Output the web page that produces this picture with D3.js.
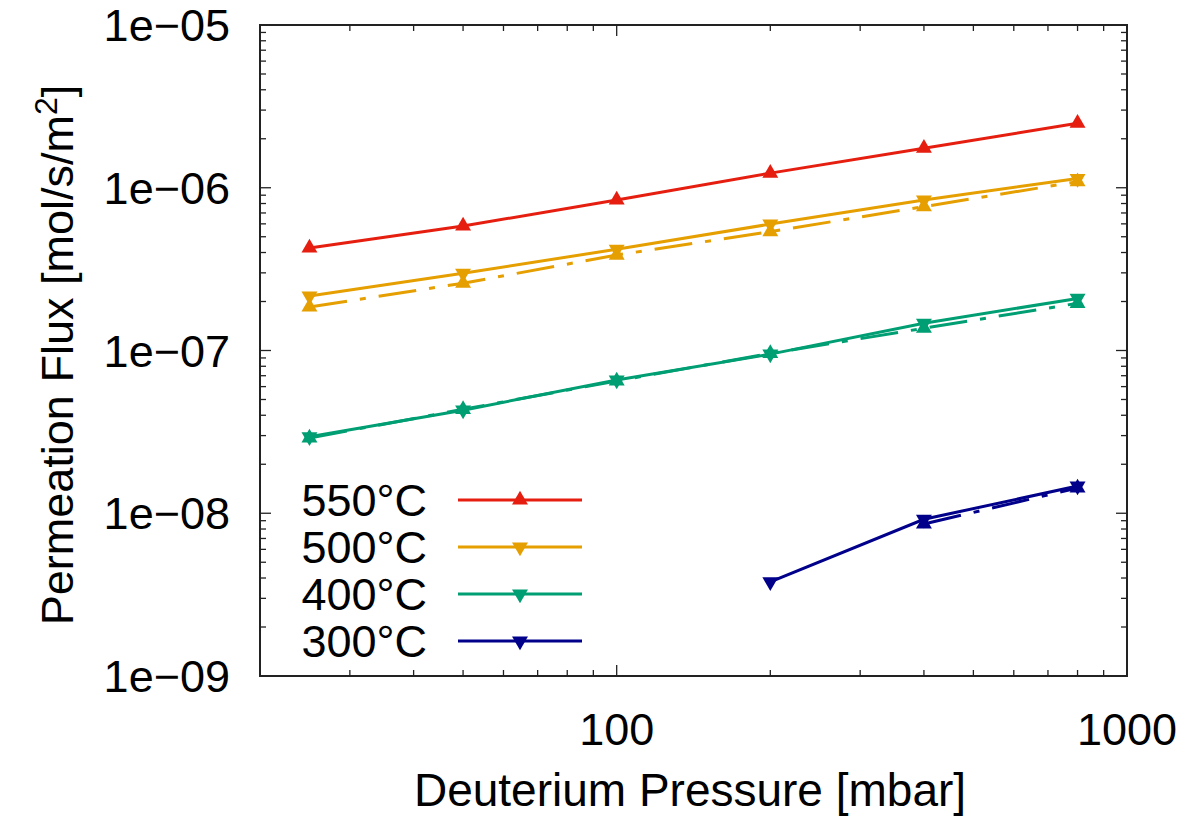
<!DOCTYPE html>
<html>
<head>
<meta charset="utf-8">
<script src="https://cdn.jsdelivr.net/npm/d3@7"></script>
<style>
  body { margin: 0; background: #fff; }
  text { font-family: "Liberation Sans", Arial, sans-serif; fill: #000; }
</style>
</head>
<body>
<script>
// pressures [mbar]
var pressures = [25, 50, 100, 200, 400, 800];

// measured flux, solid lines
var flux550 = [4.27e-7, 5.82e-7, 8.41e-7, 1.23e-6, 1.75e-6, 2.49e-6];
var flux500 = [2.16e-7, 2.98e-7, 4.19e-7, 5.98e-7, 8.41e-7, 1.14e-6];
var flux400 = [2.95e-8, 4.30e-8, 6.59e-8, 9.50e-8, 1.47e-7, 2.09e-7];
var flux300 = [null, null, null, 3.79e-9, 9.18e-9, 1.47e-8];

// second set, dash-dot lines (no key entry)
var fit500 = [1.85e-7, 2.59e-7, 3.86e-7, 5.37e-7, 7.66e-7, 1.09e-6];
var fit400 = [2.90e-8, 4.35e-8, 6.50e-8, 9.60e-8, 1.37e-7, 1.95e-7];
var fit300 = [null, null, null, null, 8.59e-9, 1.43e-8];

var labels = ["550°C", "500°C", "400°C", "300°C"];
var colors = ["#e51e10", "#e69f00", "#009e73", "#00008b"];

var xMajor = [100, 1000];
var yMajor = [1e-9, 1e-8, 1e-7, 1e-6, 1e-5];
var yLabels = ["1e\u221209", "1e\u221208", "1e\u221207", "1e\u221206", "1e\u221205"];

var W = 1187, H = 818;
var pLeft = 260, pRight = 1127, pTop = 25, pBottom = 676;

var svg = d3.select("body").append("svg")
  .attr("width", W).attr("height", H);

var x = d3.scaleLog().domain([20, 1000]).range([pLeft, pRight]);
var y = d3.scaleLog().domain([1e-9, 1e-5]).range([pBottom, pTop]);

// minor ticks
var xMinor = [];
[10, 100].forEach(function (d) {
  for (var k = 2; k <= 9; k++) {
    var v = d * k;
    if (v > 20 && v < 1000 && v !== 100) xMinor.push(v);
  }
});
var yMinor = [];
[1e-9, 1e-8, 1e-7, 1e-6].forEach(function (d) {
  for (var k = 2; k <= 9; k++) yMinor.push(d * k);
});

var ticks = svg.append("g").attr("stroke", "#222").attr("stroke-width", 1.3);
function tickLines(vals, len) {
  vals.forEach(function (v) {
    var px = x(v);
    ticks.append("line").attr("x1", px).attr("x2", px).attr("y1", pBottom).attr("y2", pBottom - len);
    ticks.append("line").attr("x1", px).attr("x2", px).attr("y1", pTop).attr("y2", pTop + len);
  });
}
function tickLinesY(vals, len) {
  vals.forEach(function (v) {
    var py = y(v);
    ticks.append("line").attr("x1", pLeft).attr("x2", pLeft + len).attr("y1", py).attr("y2", py);
    ticks.append("line").attr("x1", pRight).attr("x2", pRight - len).attr("y1", py).attr("y2", py);
  });
}
tickLines(xMajor, 11);
tickLines(xMinor, 6);
tickLinesY(yMajor, 11);
tickLinesY(yMinor, 6);

// tick labels
svg.append("g").selectAll("text").data(xMajor).enter().append("text")
  .attr("x", function (d) { return x(d); })
  .attr("y", 745)
  .attr("text-anchor", "middle")
  .attr("font-size", 45)
  .text(function (d) { return d; });

svg.append("g").selectAll("text").data(yMajor).enter().append("text")
  .attr("x", 230)
  .attr("y", function (d) { return y(d); })
  .attr("dy", "0.36em")
  .attr("text-anchor", "end")
  .attr("font-size", 45)
  .text(function (d, i) { return yLabels[i]; });

// axis titles
svg.append("text")
  .attr("x", 690).attr("y", 806)
  .attr("text-anchor", "middle")
  .attr("font-size", 46)
  .text("Deuterium Pressure [mbar]");

var yt = svg.append("text")
  .attr("transform", "translate(73,355) rotate(-90)")
  .attr("text-anchor", "middle")
  .attr("font-size", 45);
yt.append("tspan").text("Permeation Flux [mol/s/m");
yt.append("tspan").attr("dy", -16).attr("font-size", 32).text("2");
yt.append("tspan").attr("dy", 16).text("]");

// series
var line = d3.line()
  .defined(function (d) { return d.v !== null; })
  .x(function (d) { return x(d.p); })
  .y(function (d) { return y(d.v); });

function pts(vals) {
  return vals.map(function (v, i) { return {p: pressures[i], v: v}; });
}

var up = d3.symbol().type(d3.symbolTriangle).size(110);

function drawSeries(vals, color, dashed, down) {
  var data = pts(vals);
  svg.append("path").datum(data)
    .attr("fill", "none")
    .attr("stroke", color)
    .attr("stroke-width", 3)
    .attr("stroke-dasharray", dashed ? "38,13,6,13" : null)
    .attr("d", line);
  svg.append("g").selectAll("path")
    .data(data.filter(function (d) { return d.v !== null; }))
    .enter().append("path")
    .attr("d", up)
    .attr("fill", color)
    .attr("transform", function (d) {
      return "translate(" + x(d.p) + "," + y(d.v) + ")" + (down ? " rotate(180)" : "");
    });
}

drawSeries(flux550, colors[0], false, false);
drawSeries(flux500, colors[1], false, true);
drawSeries(fit500, colors[1], true, false);
drawSeries(flux400, colors[2], false, true);
drawSeries(fit400, colors[2], true, false);
drawSeries(flux300, colors[3], false, true);
drawSeries(fit300, colors[3], true, false);

// legend
var legend = svg.append("g");
labels.forEach(function (lab, i) {
  var ly = 500 + i * 47;
  legend.append("text")
    .attr("x", 427).attr("y", ly)
    .attr("dy", "0.36em")
    .attr("text-anchor", "end")
    .attr("font-size", 45)
    .text(lab);
  legend.append("line")
    .attr("x1", 458).attr("x2", 582).attr("y1", ly).attr("y2", ly)
    .attr("stroke", colors[i]).attr("stroke-width", 3);
  legend.append("path")
    .attr("d", up)
    .attr("fill", colors[i])
    .attr("transform", "translate(520," + ly + ")" + (i > 0 ? " rotate(180)" : ""));
});

// frame
svg.append("rect")
  .attr("x", pLeft).attr("y", pTop)
  .attr("width", pRight - pLeft).attr("height", pBottom - pTop)
  .attr("fill", "none").attr("stroke", "#222").attr("stroke-width", 2);
</script>
</body>
</html>
